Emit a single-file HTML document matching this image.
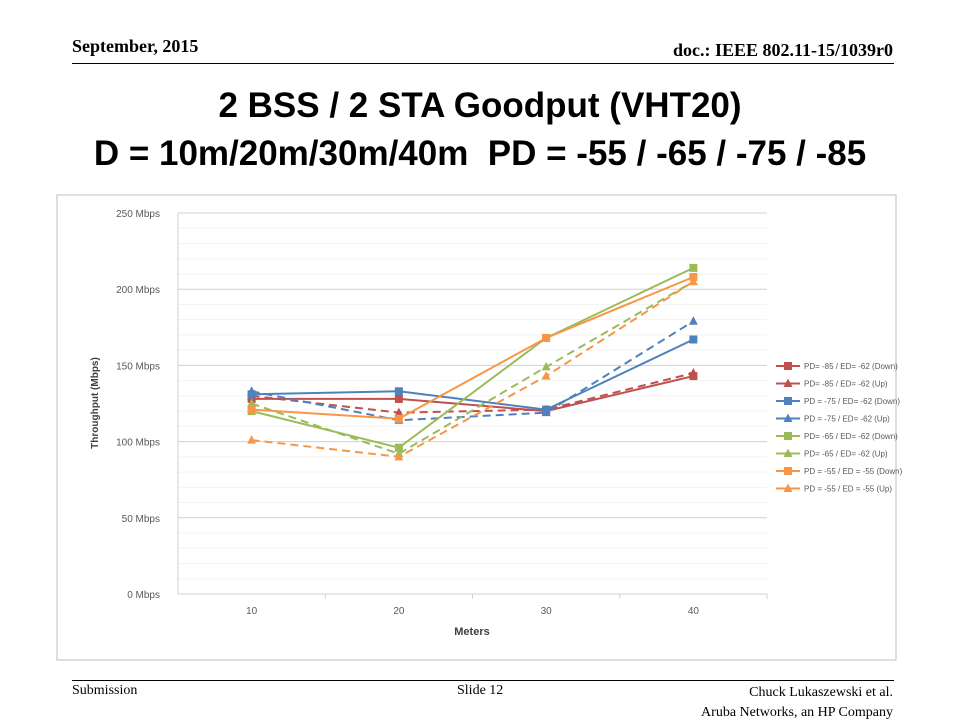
<!DOCTYPE html>
<html><head><meta charset="utf-8"><style>
body{margin:0;width:960px;height:720px;background:#fff;position:relative;font-family:"Liberation Serif",serif;overflow:hidden}
.a{position:absolute}
</style></head><body>
<div class="a" style="left:72px;top:36px;font-size:18px;font-weight:bold">September, 2015</div>
<div class="a" style="right:67px;top:40px;font-size:18px;font-weight:bold">doc.: IEEE 802.11-15/1039r0</div>
<div class="a" style="left:72px;top:63px;width:822px;height:1px;background:#000"></div>
<div class="a" style="left:0;top:82px;width:960px;text-align:center;font-family:'Liberation Sans',sans-serif;font-size:35px;font-weight:bold;line-height:48px">2 BSS / 2 STA Goodput (VHT20)<br>D = 10m/20m/30m/40m&nbsp; PD = -55 / -65 / -75 / -85</div>
<div class="a" style="left:72px;top:680px;width:822px;height:1px;background:#000"></div>
<div class="a" style="left:72px;top:683px;font-size:14px">Submission</div>
<div class="a" style="left:457px;top:683px;font-size:14px">Slide 12</div>
<div class="a" style="right:67px;top:683px;font-size:14px;text-align:right;line-height:20px">Chuck Lukaszewski et al.<br>Aruba Networks, an HP Company</div>
<svg class="a" style="left:0;top:0" width="960" height="720" id="chart">
<rect x="57" y="195" width="839" height="465" fill="#fff" stroke="#bfbfbf"/>
</svg>
<script>
const categories=[10,20,30,40];
const yTicks=[0,50,100,150,200,250];
const seriesNames=["PD= -85 / ED= -62 (Down)","PD= -85 / ED= -62 (Up)","PD = -75 / ED= -62 (Down)","PD = -75 / ED= -62 (Up)","PD= -65 / ED= -62 (Down)","PD= -65 / ED= -62 (Up)","PD = -55 / ED = -55 (Down)","PD = -55 / ED = -55 (Up)"];
const redDown=[128,128,120,143];
const redUp=[130,119,121,145];
const blueDown=[131,133,121,167];
const blueUp=[133,114,119,179];
const greenDown=[120,96,168,214];
const greenUp=[125,92,149,205];
const orangeDown=[121,115,168,208];
const orangeUp=[101,90,143,205];
const seriesValues=[redDown,redUp,blueDown,blueUp,greenDown,greenUp,orangeDown,orangeUp];
const colors=["#c0504d","#c0504d","#4f81bd","#4f81bd","#9bbb59","#9bbb59","#f79646","#f79646"];
const svg=document.getElementById('chart');const NS="http://www.w3.org/2000/svg";
const X0=178,X1=767,Y0=594,Y1=213;
const y=v=>Y0-(v/250)*(Y0-Y1);
const x=i=>X0+(X1-X0)/categories.length*(i+0.5);
function mk(t,a,p){const e=document.createElementNS(NS,t);for(const k in a)e.setAttribute(k,a[k]);(p||svg).appendChild(e);return e;}
for(let v=0;v<=250;v+=10){if(v%50)mk('line',{x1:X0,x2:X1,y1:y(v),y2:y(v),stroke:'#f3f3f3'});}
yTicks.forEach(v=>{const l=mk('line',{x1:X0,x2:X1,y1:y(v),y2:y(v),stroke:'#d0d0d0'});


const t=mk('text',{x:160,y:y(v)+4,'text-anchor':'end','font-size':10,fill:'#595959','font-family':'Liberation Sans, sans-serif'});t.textContent=v+' Mbps';

});
mk('line',{x1:X0,x2:X0,y1:Y1,y2:Y0,stroke:'#d0d0d0'});
categories.forEach((c,i)=>{const t=mk('text',{x:x(i),y:614,'text-anchor':'middle','font-size':10,fill:'#595959','font-family':'Liberation Sans, sans-serif'});t.textContent=c;


mk('line',{x1:X0+(X1-X0)/4*(i+1),x2:X0+(X1-X0)/4*(i+1),y1:Y0,y2:Y0+5,stroke:'#d0d0d0'});});
let t=mk('text',{x:472,y:635,'text-anchor':'middle','font-size':11,'font-weight':'bold',fill:'#404040','font-family':'Liberation Sans, sans-serif'});t.textContent='Meters';


t=mk('text',{x:0,y:0,transform:'translate(98,403) rotate(-90)','text-anchor':'middle','font-size':10,'font-weight':'bold',fill:'#404040','font-family':'Liberation Sans, sans-serif'});t.textContent='Throughput (Mbps)';


function marker(cx,cy,up,c,g){if(up)mk('polygon',{points:`${cx},${cy-5} ${cx+4.5},${cy+3.5} ${cx-4.5},${cy+3.5}`,fill:c},g);else mk('rect',{x:cx-4,y:cy-4,width:8,height:8,fill:c},g);}
seriesValues.forEach((vals,s)=>{const up=s%2==1;const g=mk('g',{});


mk('polyline',{points:vals.map((v,i)=>x(i)+','+y(v)).join(' '),fill:'none',stroke:colors[s],'stroke-width':2,'stroke-dasharray':up?'8,5':''},g);
vals.forEach((v,i)=>marker(x(i),y(v),up,colors[s],g));
const ly=366+s*17.5;const lg=mk('g',{});


mk('line',{x1:776,x2:800,y1:ly,y2:ly,stroke:colors[s],'stroke-width':2},lg);
marker(788,ly,up,colors[s],lg);
const tt=mk('text',{x:804,y:ly+3,'font-size':8,fill:'#595959','font-family':'Liberation Sans, sans-serif'},lg);tt.textContent=seriesNames[s];});
</script>
</body></html>
